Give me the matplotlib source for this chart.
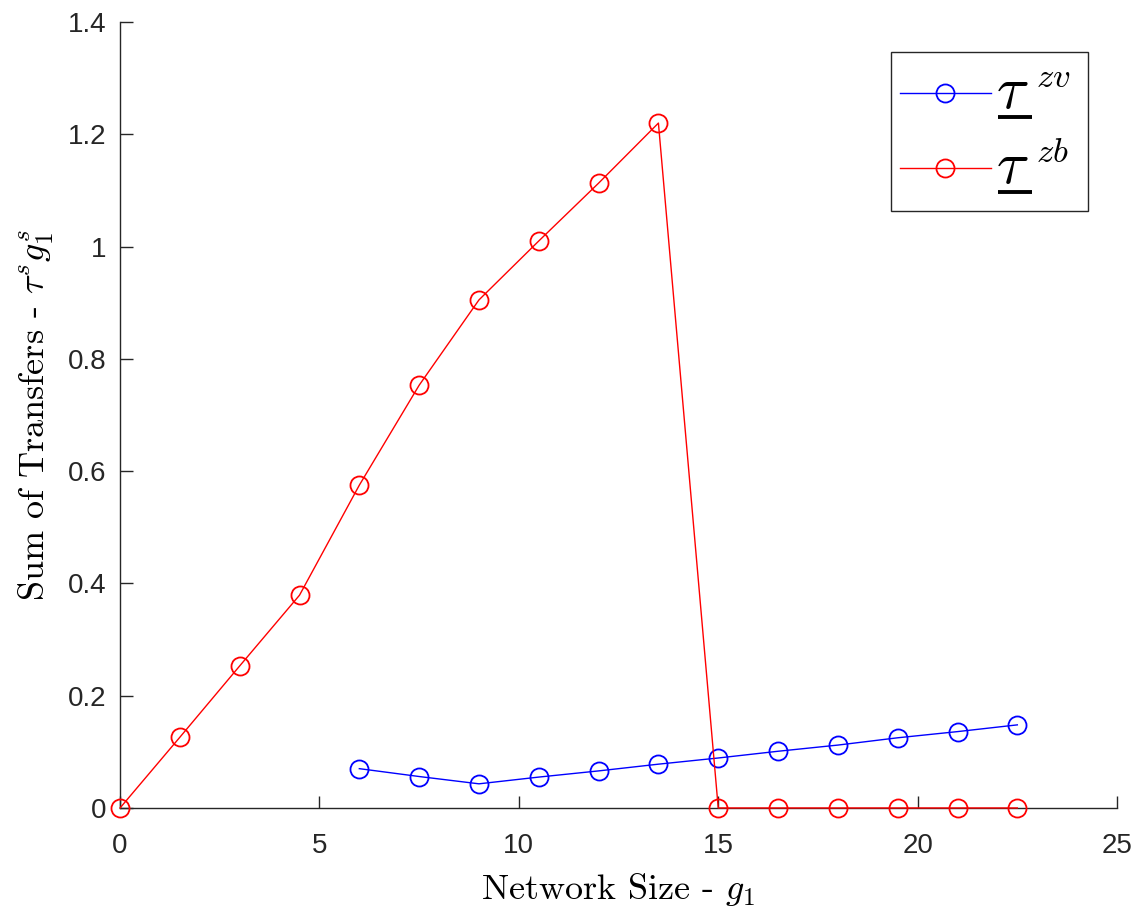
import matplotlib
matplotlib.use("Agg")
import matplotlib.pyplot as plt
from matplotlib.lines import Line2D
from matplotlib.patches import Rectangle

plt.rcParams['mathtext.fontset'] = 'cm'
plt.rcParams['font.family'] = ['Liberation Sans', 'DejaVu Sans']

g1_zv = [6, 7.5, 9, 10.5, 12, 13.5, 15, 16.5, 18, 19.5, 21, 22.5]
tau_zv = [0.070, 0.056, 0.043, 0.055, 0.066, 0.078, 0.089, 0.101, 0.112, 0.125, 0.136, 0.148]

g1_zb = [0, 1.5, 3, 4.5, 6, 7.5, 9, 10.5, 12, 13.5, 15, 16.5, 18, 19.5, 21, 22.5]
tau_zb = [0, 0.126, 0.253, 0.379, 0.575, 0.753, 0.905, 1.010, 1.113, 1.220,
          0, 0, 0, 0, 0, 0]

xticks = [0, 5, 10, 15, 20, 25]
yticks = [0, 0.2, 0.4, 0.6, 0.8, 1.0, 1.2, 1.4]
yticklabels = ['0', '0.2', '0.4', '0.6', '0.8', '1', '1.2', '1.4']

series_colors = ['#0000ff', '#ff0000']
legend_sups = ['zv', 'zb']

fig = plt.figure(figsize=(11.39, 9.07), dpi=100)
ax = fig.add_axes([0.1054, 0.1092, 0.8753, 0.8665])

style = dict(lw=1.0, ms=13, mfc='none', mew=1.3, clip_on=False, zorder=3)
ax.plot(g1_zv, tau_zv, '-o', color=series_colors[0], **style)
ax.plot(g1_zb, tau_zb, '-o', color=series_colors[1], **style)

ax.set_xlim(0, 25)
ax.set_ylim(0, 1.4)
ax.set_xticks(xticks)
ax.set_yticks(yticks)
ax.set_yticklabels(yticklabels)

for s in ['top', 'right']:
    ax.spines[s].set_visible(False)
for s in ['left', 'bottom']:
    ax.spines[s].set_color('#262626')
    ax.spines[s].set_linewidth(1.0)
ax.tick_params(direction='in', length=9, width=1.0, colors='#262626',
               labelsize=20)
ax.tick_params(axis='x', pad=18)
ax.tick_params(axis='y', pad=10)

ax.set_xlabel(r'Network Size - $g_1$', fontsize=26, family='cmr10', labelpad=8.5)
ax.set_ylabel(r'Sum of Transfers - $\tau^s g_1^s$', fontsize=26, family='cmr10',
              labelpad=8)

# legend box with handles and underlined tau labels (axes-fraction layout)
T = ax.transAxes
box = Rectangle((0.7733, 0.7595), 0.1976, 0.2023, transform=T, fill=True,
                facecolor='white', edgecolor='#262626', lw=1.0, clip_on=False,
                zorder=5)
ax.add_patch(box)
row_y = [0.9097, 0.8142]
px = 1.0 / 786.0  # one pixel in axes-fraction height
for ry, col, sup in zip(row_y, series_colors, legend_sups):
    ax.add_line(Line2D([0.7823, 0.8736], [ry, ry], color=col, lw=1.0,
                       transform=T, clip_on=False, zorder=6))
    ax.add_line(Line2D([0.8275], [ry], color=col, marker='o', ms=13, mfc='none',
                       mew=1.3, transform=T, clip_on=False, zorder=6))
    ax.text(0.8790, ry - 15 * px, r'$\tau$', fontsize=43, ha='left', va='baseline',
            transform=T, zorder=6)
    ax.text(0.9190, ry + 6 * px, '$' + sup + '$', fontsize=25, ha='left',
            va='baseline', transform=T, zorder=6)
    ax.add_line(Line2D([0.8806, 0.9147], [ry - 24 * px, ry - 24 * px], color='black',
                       lw=2.8, solid_capstyle='butt', transform=T, clip_on=False,
                       zorder=6))

fig.savefig('out.png', dpi=100)
